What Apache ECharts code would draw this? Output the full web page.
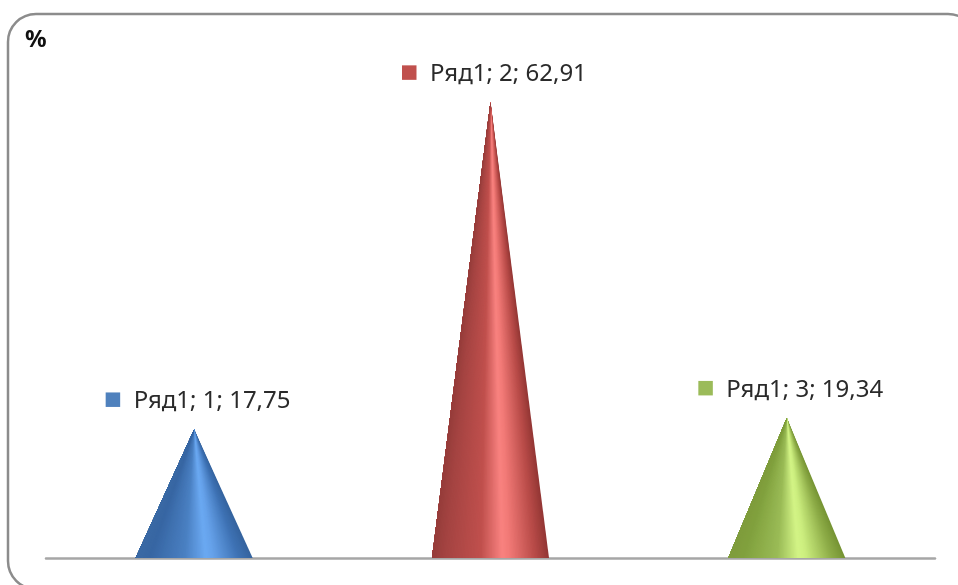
<!DOCTYPE html>
<html><head><meta charset="utf-8">
<style>html,body{margin:0;padding:0;background:#fff;overflow:hidden}#c{width:958px;height:585px}</style>
<script src="https://cdn.jsdelivr.net/npm/echarts@6/dist/echarts.min.js"></script>
</head><body><div id="c"></div>
<script>
const seriesName = 'Ряд1';
const categories = ['1', '2', '3'];
const values = [17.75, 62.91, 19.34];
const labelTexts = ['17,75', '62,91', '19,34'];
const keyColors = ['#4F81BD', '#C0504D', '#9BBB59'];
const shadeOffsets = [0, 0.12, 0.42, 0.6, 0.66, 0.88, 1];
const shades = [
  ['#3A69A4', '#3766A3', '#4A80C2', '#6BA9F2', '#66A2EA', '#3E72B4', '#34639E'],
  ['#953C3A', '#A54442', '#C0504D', '#F98280', '#F27A77', '#B84B48', '#923634'],
  ['#7F9C3C', '#80A03D', '#9ABB56', '#D3F486', '#CCEE7F', '#8EAD48', '#759333']
];
const chart = echarts.init(document.getElementById('c'));

function hex(c){ return [1,3,5].map(i=>parseInt(c.slice(i,i+2),16)); }
function shadeAt(stops, t){
  let k = 0;
  while (k < shadeOffsets.length-2 && t > shadeOffsets[k+1]) k++;
  const f = (t-shadeOffsets[k])/(shadeOffsets[k+1]-shadeOffsets[k]);
  const a = hex(stops[k]), b = hex(stops[k+1]);
  return 'rgb('+a.map((v,i)=>Math.round(v+(b[i]-v)*f)).join(',')+')';
}
const coneHalfWidth = 58.5, slices = 80;

function renderCone(params, api){
  const i = params.dataIndex;
  const tip = api.coord([api.value(0), api.value(1)]);
  const base = api.coord([api.value(0), 0]);
  const children = [];
  const left = base[0]-coneHalfWidth;
  for (let s = slices-1; s >= 0; s--){
    const x1 = left+2*coneHalfWidth*(s+1)/slices;
    children.push({type:'polygon',shape:{points:[[tip[0],tip[1]],[left,base[1]],[x1,base[1]]]},
      style:{fill:shadeAt(shades[i], (s+0.5)/slices)}});
  }
  children.push({type:'rect',shape:{x:tip[0]-88.5,y:tip[1]-37,width:14.5,height:14.5},style:{fill:keyColors[i]}});
  children.push({type:'text',x:tip[0]-60.5,y:tip[1]-28,style:{
    text:seriesName+'; '+categories[i]+'; '+labelTexts[i],
    fontFamily:'Noto Sans',fontSize:24,fill:'#2a2a2a',verticalAlign:'middle',align:'left'}});
  return {type:'group',children};
}

chart.setOption({
  animation:false,
  backgroundColor:'#fff',
  title:{text:'%',left:20,top:23,textStyle:{fontFamily:'Noto Sans',fontSize:24,fontWeight:'bold',color:'#111'}},
  graphic:[{type:'rect',silent:true,z:-1,shape:{x:8,y:14,width:968,height:575,r:28},
    style:{fill:'#fff',stroke:'#8C8C8C',lineWidth:2.5}}],
  grid:{left:46,right:23,top:51,bottom:27},
  xAxis:{type:'category',data:categories,axisTick:{show:false},axisLabel:{show:false},
    axisLine:{lineStyle:{color:'#A6A6A6',width:2.5}}},
  yAxis:{type:'value',min:0,max:70,show:false,splitLine:{show:false}},
  series:[{
    type:'custom',clip:false,z:2,renderItem:renderCone,
    data:values.map((v,i)=>[i,v])
  }]
});
</script></body></html>
